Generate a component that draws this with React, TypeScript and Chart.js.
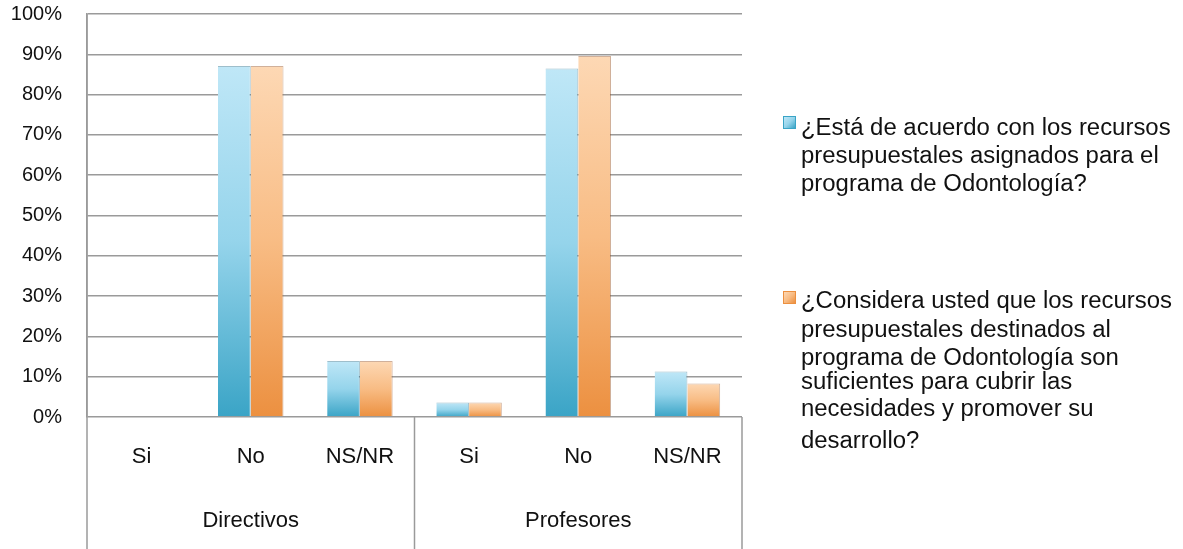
import React, { useEffect, useRef } from "react";
import { Chart, registerables } from "chart.js";

Chart.register(...registerables);

const categories = ["Si", "No", "NS/NR", "Si", "No", "NS/NR"];
const groups = ["Directivos", "Profesores"];
const seriesNames = [
  "¿Está de acuerdo con los recursos presupuestales asignados para el programa de Odontología?",
  "¿Considera usted que los recursos presupuestales destinados al programa de Odontología son suficientes para cubrir las necesidades y promover su desarrollo?",
];
const acuerdoValues = [0, 87.1, 13.9, 3.6, 86.5, 11.3];
const suficientesValues = [0, 87.1, 13.9, 3.6, 89.6, 8.3];
const yTicks = [0, 10, 20, 30, 40, 50, 60, 70, 80, 90, 100];

const legendLines1 = [
  "¿Está de acuerdo con los recursos",
  "presupuestales asignados para el",
  "programa de Odontología?",
];
const legendLines2 = [
  "¿Considera usted que los recursos",
  "presupuestales destinados al",
  "programa de Odontología son",
  "suficientes para cubrir las",
  "necesidades y promover su",
  "desarrollo?",
];

const FONT = "'Liberation Sans', Arial, Helvetica, sans-serif";
const W = 1183;
const H = 549;
const PLOT_LEFT = 87;
const PLOT_RIGHT = 742;
const PLOT_TOP = 14;
const PLOT_BOTTOM = 417;

const blueStops = ["#bfe7f7", "#95d4eb", "#3aa4c6"];
const orangeStops = ["#fdd8b4", "#f8bc84", "#ec9040"];

function gradientFill(stops: string[]) {
  return (ctx: any) => {
    const chart = ctx.chart;
    const scales = chart.scales;
    if (ctx.type !== "data" || !scales || !scales.y) return stops[1];
    const v = ctx.raw as number;
    const top = scales.y.getPixelForValue(v);
    const base = scales.y.getPixelForValue(0);
    if (!isFinite(top) || !isFinite(base) || base - top < 1) return stops[1];
    const g = chart.ctx.createLinearGradient(0, top, 0, base);
    g.addColorStop(0, stops[0]);
    g.addColorStop(0.5, stops[1]);
    g.addColorStop(1, stops[2]);
    return g;
  };
}

const axisPlugin = {
  id: "multiLevelAxis",
  afterDraw(chart: any) {
    const { ctx, scales } = chart;
    const x = scales.x;
    const y = scales.y;
    const base = y.getPixelForValue(0);
    ctx.save();
    ctx.strokeStyle = "#9a9a9a";
    ctx.lineWidth = 1.5;
    const n = categories.length;
    const step = (x.right - x.left) / n;
    const seps = [x.left, x.left + step * 3, x.right];
    seps.forEach((sx, i) => {
      ctx.beginPath();
      ctx.moveTo(sx, i === 0 ? y.top : base);
      ctx.lineTo(sx, H);
      ctx.stroke();
    });
    ctx.fillStyle = "#111";
    ctx.textAlign = "center";
    ctx.textBaseline = "middle";
    ctx.font = `22px ${FONT}`;
    categories.forEach((c, i) => {
      ctx.fillText(c, x.getPixelForValue(i), 457);
    });
    groups.forEach((gname, gi) => {
      const cx = (x.getPixelForValue(gi * 3) + x.getPixelForValue(gi * 3 + 2)) / 2;
      ctx.fillText(gname, cx, 521);
    });
    ctx.restore();
  },
};

function Marker({ stops, top }: { stops: string[]; top: number }) {
  return (
    <div
      style={{
        position: "absolute",
        left: 783,
        top,
        width: 11,
        height: 11,
        background: `linear-gradient(135deg, ${stops[0]} 0%, ${stops[1]} 50%, ${stops[2]} 100%)`,
        border: `1px solid ${stops[2]}`,
      }}
    />
  );
}

function LegendText({ lines, tops }: { lines: string[]; tops: number[] }) {
  return (
    <>
      {lines.map((l, i) => (
        <div
          key={i}
          style={{
            position: "absolute",
            left: 801,
            top: tops[i] - 14,
            height: 28,
            lineHeight: "28px",
            fontFamily: FONT,
            fontSize: 23,
            color: "#111",
            whiteSpace: "nowrap",
            transform: "scaleX(1.04)",
            transformOrigin: "left center",
          }}
        >
          {l}
        </div>
      ))}
    </>
  );
}

export default function App() {
  const ref = useRef<HTMLCanvasElement | null>(null);
  useEffect(() => {
    if (!ref.current) return;
    const chart = new Chart(ref.current, {
      type: "bar",
      data: {
        labels: categories,
        datasets: [
          {
            label: seriesNames[0],
            data: acuerdoValues,
            backgroundColor: gradientFill(blueStops),
            borderColor: "rgba(40,110,140,0.45)",
            borderWidth: { left: 0, right: 1, top: 1, bottom: 0 },
            barPercentage: 1,
            categoryPercentage: 0.6,
          },
          {
            label: seriesNames[1],
            data: suficientesValues,
            backgroundColor: gradientFill(orangeStops),
            borderColor: "rgba(150,80,30,0.45)",
            borderWidth: { left: 0, right: 1, top: 1, bottom: 0 },
            barPercentage: 1,
            categoryPercentage: 0.6,
          },
        ],
      },
      options: {
        responsive: false,
        animation: false,
        devicePixelRatio: 1,
        layout: {
          padding: { left: 0, top: PLOT_TOP, right: W - PLOT_RIGHT, bottom: 0 },
        },
        plugins: {
          legend: { display: false },
          tooltip: { enabled: false },
        },
        scales: {
          x: {
            grid: { display: false },
            border: { display: false },
            ticks: { display: false },
            afterFit: (s: any) => {
              s.height = H - PLOT_BOTTOM;
              s.paddingLeft = 0;
              s.paddingRight = 0;
            },
          },
          y: {
            min: 0,
            max: 100,
            afterFit: (s: any) => {
              s.width = PLOT_LEFT;
              s.paddingTop = 0;
              s.paddingBottom = 0;
            },
            afterBuildTicks: (s: any) => {
              s.ticks = yTicks.map((v) => ({ value: v }));
            },
            grid: { color: "#9a9a9a", lineWidth: 1.5, drawTicks: false },
            border: { display: true, color: "#9a9a9a", width: 1.5 },
            ticks: {
              padding: 25,
              color: "#111",
              font: { family: FONT, size: 20 },
              callback: (v: any) => `${v}%`,
            },
          },
        },
      },
      plugins: [axisPlugin],
    });
    return () => chart.destroy();
  }, []);

  return (
    <div style={{ position: "absolute", left: 0, top: 0, width: W, height: H, background: "#fff", overflow: "hidden" }}>
      <canvas ref={ref} width={W} height={H} style={{ position: "absolute", left: 0, top: 0 }} />
      <Marker stops={blueStops} top={116} />
      <LegendText lines={legendLines1} tops={[127, 155, 183]} />
      <Marker stops={orangeStops} top={291} />
      <LegendText lines={legendLines2} tops={[300, 329, 357, 381, 408, 440]} />
    </div>
  );
}
